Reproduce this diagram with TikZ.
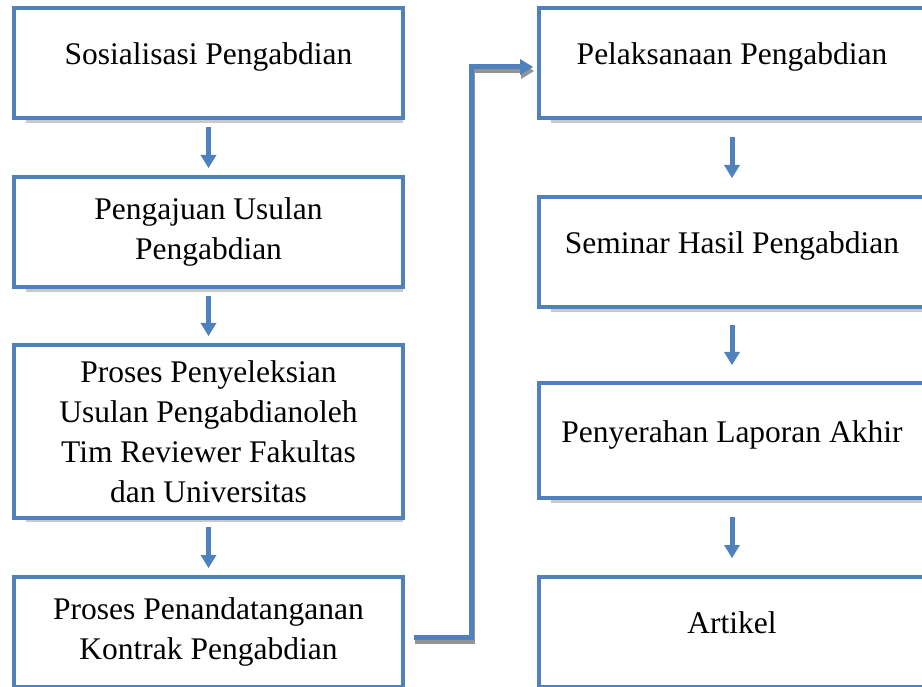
\documentclass[tikz,border=0pt]{standalone}
\usepackage{fontspec}
\setmainfont{Liberation Serif}
\usetikzlibrary{arrows.meta,positioning,calc,shadows}

\definecolor{boxblue}{RGB}{79,129,189}

\begin{document}
\begin{tikzpicture}
[x=1pt,y=-1pt,
stepbox/.style={draw=boxblue,line width=4.5pt,fill=white,outer sep=0pt,
  inner sep=0pt,align=center,font=\fontsize{31.5}{40}\selectfont,
  drop shadow={shadow xshift=6pt,shadow yshift=-7pt,shadow scale=0.97,fill=gray!85}},
oneline/.style={text depth=18pt},
leftbox/.style={stepbox,minimum width=389pt,minimum height=110pt},
rightbox/.style={stepbox,oneline,minimum width=386pt,minimum height=110pt},
flow/.style={draw=boxblue,line width=5pt,
  -{Triangle[width=16pt,length=13pt,line width=0pt]}},
elbow/.style={flow,line width=5pt},
elbowshadow/.style={draw=gray!85,line width=5pt,
  -{Triangle[width=16pt,length=13pt,line width=0pt]}}]

\useasboundingbox (0,0) rectangle (922,687);

% left column
\node (sos) [leftbox,oneline] at (208.5,63) {Sosialisasi Pengabdian};
\node (aju) [leftbox,below=59pt of sos] {Pengajuan Usulan\\Pengabdian};
\node (sel) [leftbox,below=58pt of aju,minimum height=173pt]
  {Proses Penyeleksian\\Usulan Pengabdianoleh\\Tim Reviewer Fakultas\\dan Universitas};
\node (kon) [leftbox,below=59pt of sel] {Proses Penandatanganan\\Kontrak Pengabdian};

% right column
\node (pel) [rightbox] at (732,63) {Pelaksanaan Pengabdian};
\node (sem) [rightbox,below=79pt of pel] {Seminar Hasil Pengabdian};
\node (lap) [rightbox,below=76pt of sem,minimum height=115pt] {Penyerahan Laporan Akhir};
\node (art) [rightbox,below=79pt of lap] {Artikel};

\draw[flow,shorten <=9pt,shorten >=9pt] (sos) -- (aju);
\draw[flow,shorten <=9pt,shorten >=9pt] (aju) -- (sel);
\draw[flow,shorten <=9pt,shorten >=9pt] (sel) -- (kon);
\draw[flow,shorten <=19pt,shorten >=19pt] (pel) -- (sem);
\draw[flow,shorten <=18pt,shorten >=18pt] (sem) -- (lap);
\draw[flow,shorten <=19pt,shorten >=19pt] (lap) -- (art);

\coordinate (bend) at ($(kon.east)!0.5!(pel.west)$);
\draw[elbowshadow,shorten <=11pt,shorten >=6pt,transform canvas={xshift=1pt,yshift=-4pt}]
  ([yshift=-5pt]kon.east) -| (bend) |- ([yshift=-4pt]pel.west);
\draw[elbow,shorten <=11pt,shorten >=6pt]
  ([yshift=-5pt]kon.east) -| (bend) |- ([yshift=-4pt]pel.west);

\end{tikzpicture}
\end{document}
